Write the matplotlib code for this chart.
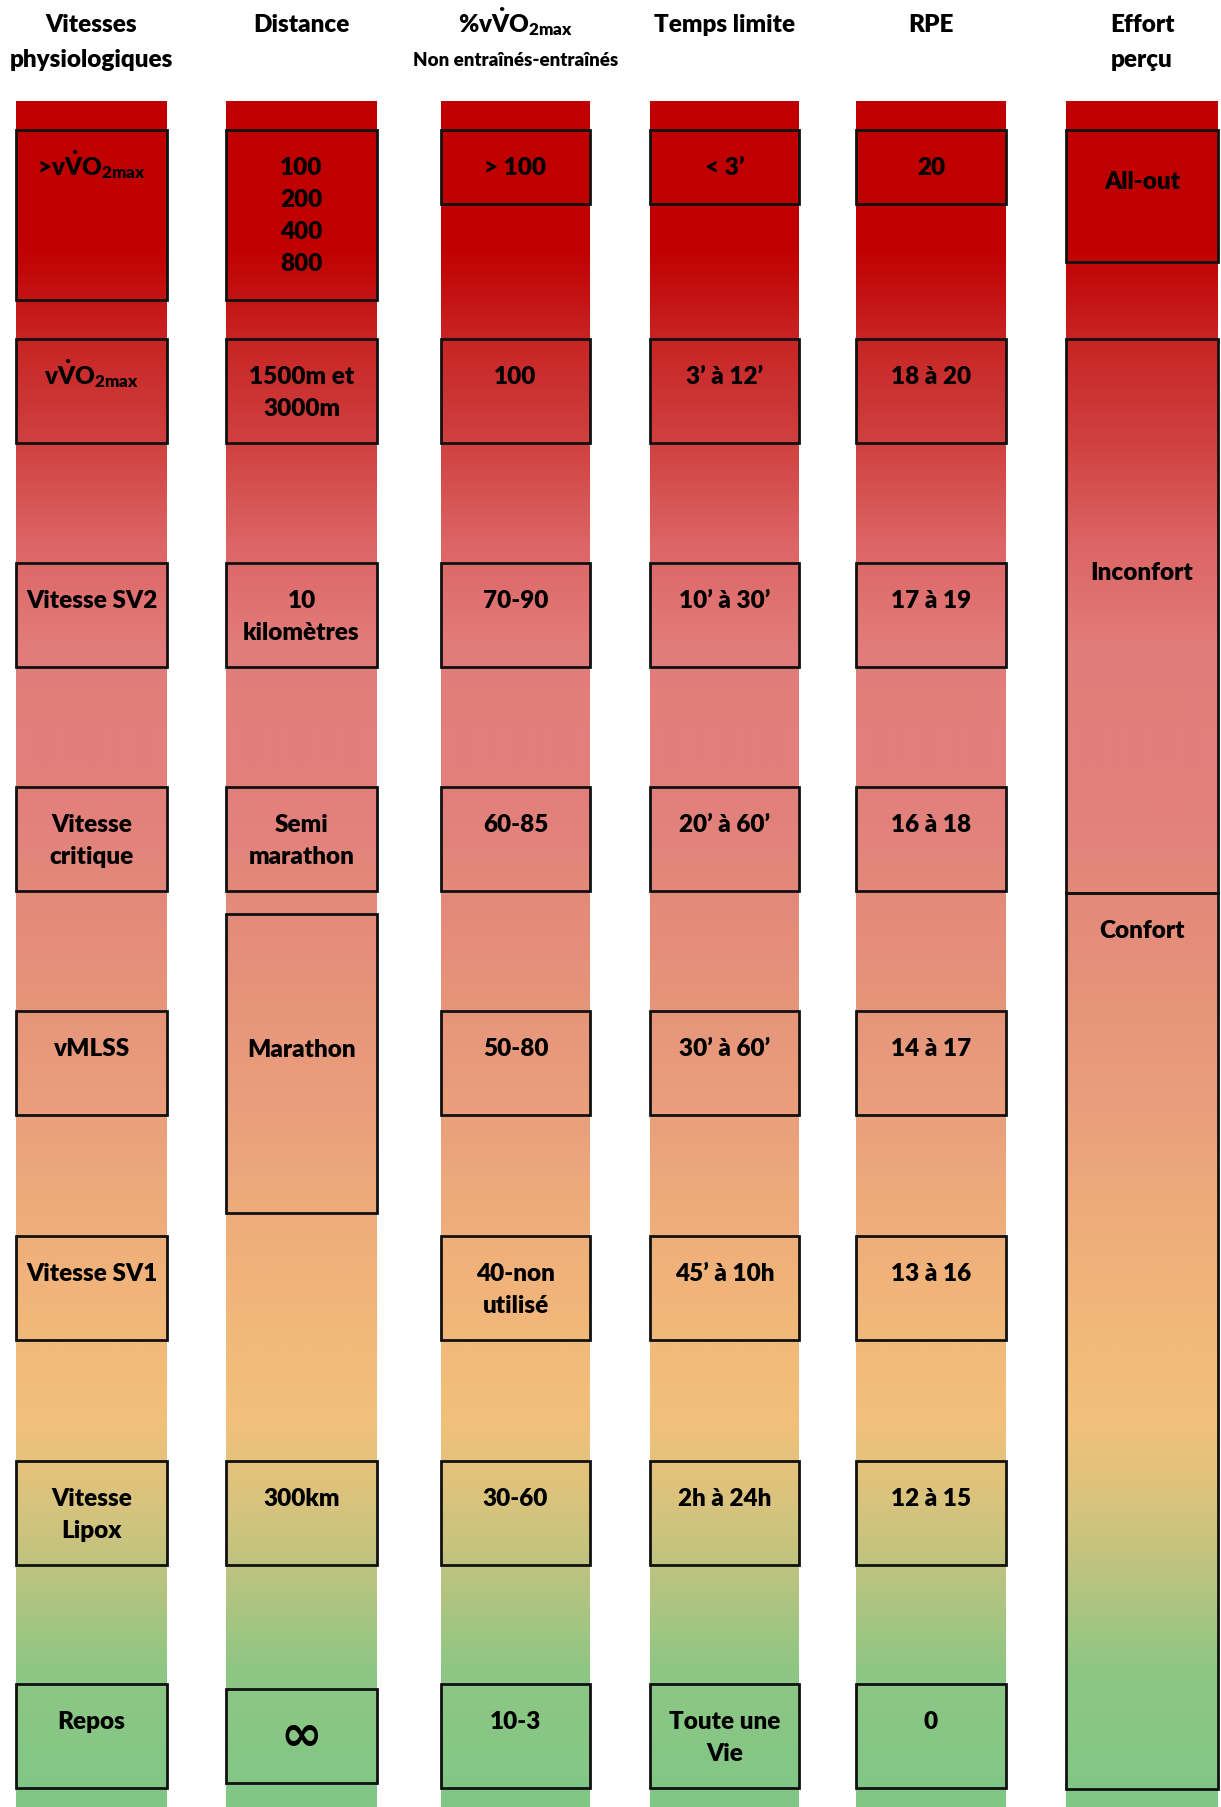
import numpy as np
import matplotlib
matplotlib.use("Agg")
import matplotlib.pyplot as plt
from matplotlib.patches import Rectangle

# Fonts: Lato (Carlito/Calibri lookalike)
plt.rcParams['font.family'] = ['Lato', 'DejaVu Sans']
plt.rcParams['mathtext.fontset'] = 'custom'
plt.rcParams['mathtext.rm'] = 'Lato:heavy'
plt.rcParams['mathtext.it'] = 'Lato:heavy'
plt.rcParams['mathtext.bf'] = 'Lato:heavy'
WEIGHT = 'heavy'

# Column headers
headers = [["Vitesses", "physiologiques"],
           ["Distance"],
           [r"%v$\dot{V}$O$_{2max}$"],
           ["Temps limite"],
           ["RPE"],
           ["Effort", "perçu"]]
subheader = "Non entraînés-entraînés"

# Box labels, one per row (None = no box)
vitesses = [r">v$\dot{V}$O$_{2max}$", r"v$\dot{V}$O$_{2max}$", "Vitesse SV2",
            "Vitesse\ncritique", "vMLSS", "Vitesse SV1", "Vitesse\nLipox", "Repos"]
distances = ["100\n200\n400\n800", "1500m et\n3000m", "10\nkilomètres",
             "Semi\nmarathon", None, None, "300km", None]
pct_vo2 = ["> 100", "100", "70-90", "60-85", "50-80", "40-non\nutilisé", "30-60", "10-3"]
temps = ["< 3’", "3’ à 12’", "10’ à 30’", "20’ à 60’", "30’ à 60’",
         "45’ à 10h", "2h à 24h", "Toute une\nVie"]
rpe = ["20", "18 à 20", "17 à 19", "16 à 18", "14 à 17", "13 à 16", "12 à 15", "0"]
effort = ["All-out", "Inconfort", "Confort"]

# Layout (pixels of the 1221x1807 canvas)
col_x = [(16, 167), (226, 377), (441, 590), (650, 799), (856, 1006), (1066, 1218)]
row_top = [130, 339, 563, 787, 1011, 1236, 1461, 1684]
row_h = 104
first_h = [170, 170, 74, 74, 74]
strip_top, strip_bot = 101, 1807

# Vertical colour gradient of the strips
grad_y = [101, 248, 339, 441, 541, 645, 806, 922, 1117, 1267, 1417, 1498, 1578, 1670, 1807]
grad_rgb = [(192, 0, 0), (192, 0, 0), (200, 36, 36), (208, 64, 64), (220, 100, 100),
            (226, 124, 122), (226, 128, 124), (228, 140, 122), (234, 160, 124),
            (240, 178, 122), (242, 192, 122), (218, 195, 125), (185, 196, 128),
            (142, 198, 132), (128, 199, 134)]

ys = np.arange(strip_top, strip_bot)
rgb = np.stack([np.interp(ys, grad_y, ch) for ch in zip(*grad_rgb)], axis=1) / 255.0
rgb = rgb.reshape(-1, 1, 3)

fig = plt.figure(figsize=(12.21, 18.07), dpi=100)
ax = fig.add_axes([0, 0, 1, 1])

for x0, x1 in col_x:
    ax.imshow(rgb, extent=[x0, x1, strip_bot, strip_top], origin='upper',
              aspect='auto', interpolation='bilinear', zorder=1)


def box(col, top, bottom):
    x0, x1 = col_x[col]
    ax.add_patch(Rectangle((x0, top), x1 - x0, bottom - top, fill=False,
                           edgecolor='#111111', lw=2.0, zorder=3))


def label(col, top, text, base=45, size=17.5, gap=32):
    xc = (col_x[col][0] + col_x[col][1]) / 2
    for i, line in enumerate(text.split("\n")):
        ax.text(xc, top + base + i * gap, line, ha='center', va='baseline',
                fontsize=size, fontweight=WEIGHT, color='black', zorder=4)


# Columns 1-5, one box per row
for c, labels in enumerate([vitesses, distances, pct_vo2, temps, rpe]):
    for r, txt in enumerate(labels):
        if txt is None:
            continue
        top = row_top[r]
        bottom = top + (first_h[c] if r == 0 else row_h)
        box(c, top, bottom)
        label(c, top, txt)

# Distance column: the odd boxes
box(1, 914, 1213)
label(1, 914, "Marathon", base=143)
box(1, 1689, 1783)
ax.text(sum(col_x[1]) / 2, 1736, "∞", ha='center', va='center', fontsize=36,
        fontweight='bold', family=['DejaVu Sans'], zorder=4)

# Effort perçu column
effort_span = [(130, 262), (339, 893), (893, 1789)]
effort_base = [59, 241, 45]
for (t, b), txt, bs in zip(effort_span, effort, effort_base):
    box(5, t, b)
    label(5, t, txt, base=bs)

# Headers
for c, lines in enumerate(headers):
    xc = (col_x[c][0] + col_x[c][1]) / 2
    for i, line in enumerate(lines):
        ax.text(xc, 32 + i * 35, line, ha='center', va='baseline', fontsize=17.5,
                fontweight=WEIGHT, color='black')
ax.text((col_x[2][0] + col_x[2][1]) / 2, 66, subheader, ha='center', va='baseline',
        fontsize=13.5, fontweight=WEIGHT, color='black')

ax.set_xlim(0, 1221)
ax.set_ylim(1807, 0)
ax.axis('off')
fig.savefig("out.png", dpi=100)
